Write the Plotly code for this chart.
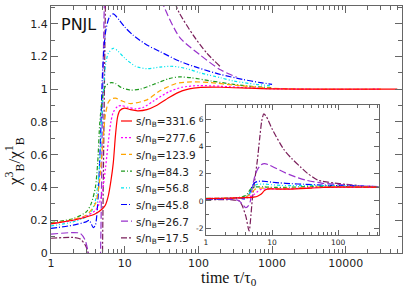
import plotly.graph_objects as go

# ---------------- data ----------------
labels = ["s/n<sub>B</sub>=331.6", "s/n<sub>B</sub>=277.6", "s/n<sub>B</sub>=123.9",
          "s/n<sub>B</sub>=84.3", "s/n<sub>B</sub>=56.8", "s/n<sub>B</sub>=45.8",
          "s/n<sub>B</sub>=26.7", "s/n<sub>B</sub>=17.5"]

tau_331 = [1, 2, 3, 4, 5, 5.5, 6, 6.5, 7, 7.5, 8, 8.6, 10, 12, 15, 20, 27, 40, 60, 100, 200, 500, 1000, 5000, 50000]
chi_331 = [0.178, 0.2, 0.22, 0.24, 0.27, 0.295, 0.35, 0.44, 0.55, 0.72, 0.83, 0.87, 0.885, 0.875, 0.868, 0.875, 0.9, 0.95, 0.99, 1.01, 1.012, 1.006, 1.002, 1.0, 1.0]

tau_277 = [1, 2, 3, 4, 4.5, 5, 5.5, 6, 6.5, 7, 8, 9, 11, 14, 18, 25, 40, 60, 100, 200, 500, 1000, 3000, 30000]
chi_277 = [0.18, 0.2, 0.225, 0.26, 0.3, 0.38, 0.52, 0.68, 0.8, 0.86, 0.895, 0.9, 0.89, 0.88, 0.89, 0.93, 0.985, 1.012, 1.022, 1.018, 1.008, 1.003, 1.0, 1.0]

tau_123 = [1, 2, 3, 4, 4.5, 5, 5.5, 6, 6.5, 7.5, 9, 12, 20, 30, 50, 80, 150, 300, 1000, 3000, 30000]
chi_123 = [0.18, 0.205, 0.23, 0.3, 0.42, 0.65, 0.85, 0.92, 0.94, 0.945, 0.93, 0.912, 0.935, 0.99, 1.035, 1.045, 1.04, 1.025, 1.006, 1.0, 1.0]

tau_84 = [1, 2, 3, 3.5, 4, 4.3, 4.6, 5, 5.5, 6.5, 7.5, 9, 12, 16, 25, 40, 55, 80, 150, 300, 600, 1000]
chi_84 = [0.185, 0.21, 0.25, 0.3, 0.4, 0.55, 0.8, 0.95, 1.02, 1.04, 1.035, 1.01, 0.995, 1.0, 1.03, 1.065, 1.075, 1.07, 1.05, 1.03, 1.015, 1.01]

tau_56 = [1, 2, 3, 3.5, 4, 4.5, 5, 5.5, 6, 7, 8, 10, 14, 20, 30, 45, 70, 105, 200, 300, 600, 1000]
chi_56 = [0.165, 0.19, 0.22, 0.25, 0.32, 0.5, 0.9, 1.15, 1.22, 1.25, 1.235, 1.19, 1.14, 1.125, 1.135, 1.14, 1.125, 1.1, 1.07, 1.05, 1.03, 1.02]

tau_45 = [1, 2, 3, 3.3, 3.75, 4.0, 4.3, 4.7, 5, 5.5, 6.2, 7.0, 8.5, 10, 13, 20, 30, 56, 100, 200, 400, 700, 1000]
chi_45 = [0.15, 0.17, 0.19, 0.2, 0.155, 0.17, 0.3, 0.7, 1.1, 1.35, 1.44, 1.46, 1.42, 1.38, 1.33, 1.27, 1.23, 1.17, 1.13, 1.09, 1.06, 1.04, 1.03]

tau_26 = [1, 2, 2.5, 2.9, 3.2, 3.5, 4.0, 4.4, 4.7, 5.0, 5.4, 6.0, 6.8, 7.7, 9, 12, 18, 25, 33, 56, 105, 196, 330]
chi_26 = [0.115, 0.125, 0.12, 0.08, 0.0, -0.2, -0.5, -0.35, 0.0, 0.9, 1.7, 2.3, 2.65, 2.75, 2.65, 2.35, 1.95, 1.7, 1.52, 1.315, 1.21, 1.12, 1.074]

tau_17 = [1, 2, 2.5, 2.9, 3.2, 3.5, 4.0, 4.5, 4.8, 5.0, 5.3, 5.6, 6.0, 6.5, 7.0, 7.5, 8.2, 10, 15, 20, 27, 35, 50, 56, 85, 130, 196]
chi_17 = [0.09, 0.095, 0.085, 0.05, 0.0, -0.3, -1.1, -2.2, -1.0, 0.0, 1.0, 1.9, 3.0, 4.6, 5.9, 6.4, 6.2, 5.3, 3.8, 3.1, 2.5, 2.0, 1.51, 1.46, 1.33, 1.22, 1.14]

taus = [tau_331, tau_277, tau_123, tau_84, tau_56, tau_45, tau_26, tau_17]
chis = [chi_331, chi_277, chi_123, chi_84, chi_56, chi_45, chi_26, chi_17]

colors = ["#ff0000", "#ff00ff", "#ffa500", "#1f9a1f", "#00e5ee", "#0000ff", "#9932cc", "#7a1e5a"]
dashes = ["solid", "2px,2px", "5px,3px", "4px,2px,1px,2px", "3px,2px,1px,2px,1px,2px",
          "6px,2px,1px,2px", "7px,3px", "6px,2px,2px,2px"]

main_xticks = [1, 10, 100, 1000, 10000]
main_yticks = [0, 0.2, 0.4, 0.6, 0.8, 1.0, 1.2, 1.4]
inset_xticks = [1, 10, 100]
inset_yticks = [-2, 0, 2, 4, 6]

# ---------------- figure ----------------
fig = go.Figure()
order = list(range(len(labels)))[::-1]
for ax_x, ax_y in (("x", "y"), ("x2", "y2")):
    for i in order:
        fig.add_trace(go.Scatter(
            x=taus[i], y=chis[i], xaxis=ax_x, yaxis=ax_y, mode="lines",
            name=labels[i], showlegend=False, hoverinfo="skip",
            line=dict(color=colors[i], width=1.2, dash=dashes[i], shape="spline", smoothing=0.7)))

# plot area in pixels (for placing the hand-made legend / labels)
L, R, T, B = 51, 402, 6, 253
W, H = R - L, B - T
def px(xp):
    return (xp - L) / W
def py(yp):
    return (B - yp) / H

shapes = []
annotations = []
for i, lab in enumerate(labels):
    yrow = 121 + i * 16.7
    shapes.append(dict(type="line", xref="paper", yref="paper",
                       x0=px(121), x1=px(132), y0=py(yrow), y1=py(yrow),
                       line=dict(color=colors[i], width=1.2, dash=dashes[i])))
    annotations.append(dict(text=lab, xref="paper", yref="paper", x=px(134), y=py(yrow + 1.5),
                            xanchor="left", yanchor="middle", showarrow=False,
                            font=dict(family="DejaVu Sans", size=10.5, color="#222")))

annotations.append(dict(text="PNJL", xref="paper", yref="paper", x=px(59), y=py(25),
                        xanchor="left", yanchor="middle", showarrow=False,
                        font=dict(family="DejaVu Sans", size=16, color="#111")))
annotations.append(dict(text="time τ/τ<sub>0</sub>", xref="paper", yref="paper", x=px(229), y=py(278),
                        xanchor="center", yanchor="middle", showarrow=False,
                        font=dict(family="Liberation Serif", size=16, color="#111")))
annotations.append(dict(text="χ<sup>3</sup><sub>B</sub>/χ<sup>1</sup><sub>B</sub>", xref="paper", yref="paper",
                        x=px(14), y=py(162), textangle=-90,
                        xanchor="center", yanchor="middle", showarrow=False,
                        font=dict(family="Liberation Serif", size=17, color="#111")))

def log_minor(decades):
    return [m * 10 ** d for d in decades for m in range(2, 10)]

axis_common = dict(showline=True, linecolor="#666", linewidth=1, mirror="allticks",
                   ticks="inside", tickcolor="#666", showgrid=False, zeroline=False)

fig.update_layout(
    width=407, height=288,
    margin=dict(l=L, r=407 - R, t=T, b=288 - B),
    paper_bgcolor="white", plot_bgcolor="white",
    showlegend=False,
    xaxis=dict(type="log", range=[0, 4.763], domain=[0, 1],
               tickvals=main_xticks, ticktext=[str(v) for v in main_xticks],
               ticklen=7, tickwidth=1,
               tickfont=dict(family="DejaVu Sans", size=11, color="#222"),
               minor=dict(tickvals=log_minor(range(0, 5)), ticks="inside", ticklen=4,
                          tickcolor="#666", showgrid=False),
               **axis_common),
    yaxis=dict(range=[0, 1.508], domain=[0, 1],
               tickvals=main_yticks, ticktext=["0", "0.2", "0.4", "0.6", "0.8", "1", "1.2", "1.4"],
               ticklen=7, tickwidth=1,
               tickfont=dict(family="DejaVu Sans", size=11, color="#222"),
               minor=dict(dtick=0.1, ticks="inside", ticklen=4, tickcolor="#666", showgrid=False),
               **axis_common),
    xaxis2=dict(type="log", range=[0, 2.62], domain=[px(206), px(379)], anchor="y2",
                tickvals=inset_xticks, ticktext=[str(v) for v in inset_xticks],
                ticklen=5, tickwidth=1,
                tickfont=dict(family="DejaVu Sans", size=7.5, color="#222"),
                minor=dict(tickvals=log_minor(range(0, 3)), ticks="inside", ticklen=3,
                           tickcolor="#666", showgrid=False),
                **axis_common),
    yaxis2=dict(range=[-2.5, 7.05], domain=[py(235), py(105)], anchor="x2",
                tickvals=inset_yticks, ticktext=[str(v) for v in inset_yticks],
                ticklen=5, tickwidth=1,
                tickfont=dict(family="DejaVu Sans", size=7.5, color="#222"),
                minor=dict(dtick=1, ticks="inside", ticklen=3, tickcolor="#666", showgrid=False),
                **axis_common),
    shapes=shapes,
    annotations=annotations,
)

fig.write_html("out.html", config={"displayModeBar": False},
               post_script="document.body.style.margin='0';document.body.style.padding='0';")
